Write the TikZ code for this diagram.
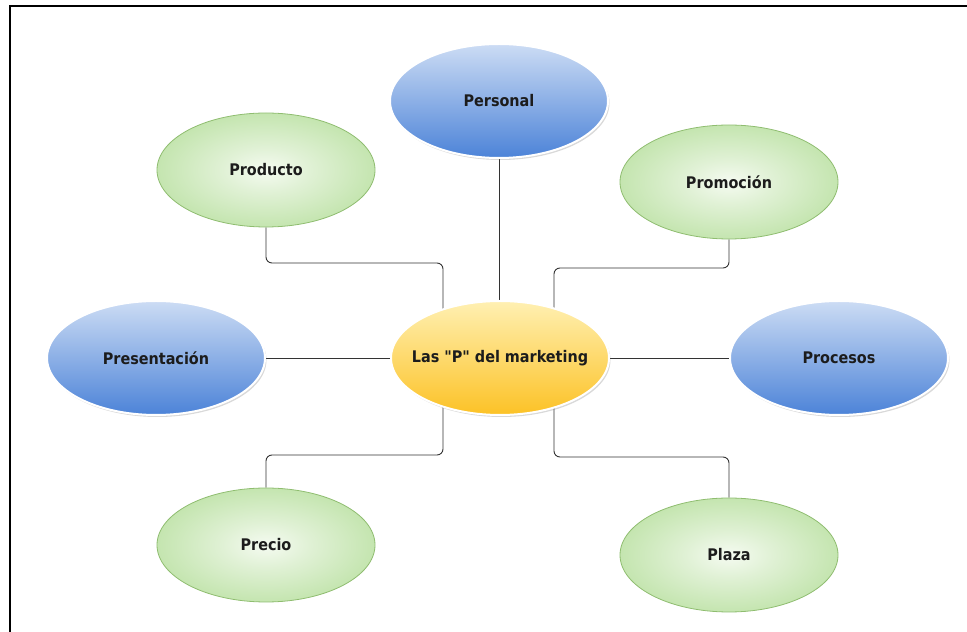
\documentclass[tikz,border=0pt]{standalone}
\usepackage{fontspec}
\setmainfont{DejaVu Sans Condensed}[Ligatures=TeXOff]
\usetikzlibrary{shapes.geometric,shadows,calc,backgrounds}
\definecolor{gin}{HTML}{F5FBF1}
\definecolor{ginb}{HTML}{E0F1D5}
\definecolor{gmid}{HTML}{BBE1A3}
\definecolor{gout}{HTML}{A3D486}
\definecolor{gedge}{HTML}{8FBD70}
\definecolor{btop}{HTML}{CCDCF4}
\definecolor{bbot}{HTML}{4C83D8}
\definecolor{ytop}{HTML}{FFF0B2}
\definecolor{ybot}{HTML}{FCC226}
\definecolor{txt}{HTML}{1C1C1C}
\definecolor{conncol}{HTML}{333333}
\pgfdeclareradialshading{greenrad}{\pgfpoint{0bp}{0bp}}{color(0bp)=(gin); color(10bp)=(ginb); color(30bp)=(gmid); color(50bp)=(gout)}
\tikzset{
  bub/.style={ellipse, minimum width=218pt, minimum height=114pt, inner xsep=-60pt, inner ysep=0pt,
    font=\bfseries\fontsize{16}{19}\selectfont, text=txt},
  greenbub/.style={bub, shading=greenrad, draw=gedge, line width=0.8pt},
  bluebub/.style={bub, top color=btop, bottom color=bbot, draw=white, line width=2pt,
    drop shadow={opacity=0.3, shadow xshift=1.5pt, shadow yshift=-2pt}},
  yellowbub/.style={bub, top color=ytop, bottom color=ybot, draw=white, line width=2pt,
    drop shadow={opacity=0.3, shadow xshift=1.5pt, shadow yshift=-2pt}},
  conn/.style={draw=conncol, line width=0.9pt, rounded corners=6pt},
  framel/.style={draw=black, line width=2pt}
}
\begin{document}
\begin{tikzpicture}[x=1pt,y=1pt]
\useasboundingbox (0,0) rectangle (967,632);
\draw[framel] (10,0) -- (10,626) -- (967,626);

\node[yellowbub] (c) at (500,274) {Las "P" del marketing};
\node[bluebub] (per) at (499,531) {Personal};
\node[greenbub] (prod) at (266,462) {Producto};
\node[greenbub] (prom) at (729,450) {Promoción};
\node[bluebub] (pres) at (156,274) {Presentación};
\node[bluebub] (proc) at (839,274) {Procesos};
\node[greenbub] (prec) at (266,87) {Precio};
\node[greenbub] (plaza) at (729,77) {Plaza};

\begin{pgfonlayer}{background}
\draw[conn] (prod.south) |- ($(c.center)+(-57,95)$) -- ($(c.center)+(-57,0)$);
\draw[conn] (per.south) -- (per.south |- c.center);
\draw[conn] (prom.south) |- ($(c.center)+(54,90)$) -- ($(c.center)+(54,0)$);
\draw[conn] (pres.east) -- (c.west);
\draw[conn] (c.east) -- (proc.west);
\draw[conn] ($(c.center)+(-57,0)$) -- ($(c.center)+(-57,-97)$) -| (prec.north);
\draw[conn] ($(c.center)+(54,0)$) -- ($(c.center)+(54,-99)$) -| (plaza.north);
\end{pgfonlayer}
\end{tikzpicture}
\end{document}
